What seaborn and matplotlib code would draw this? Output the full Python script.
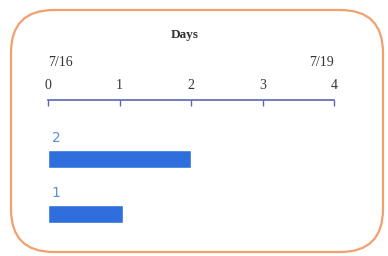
import matplotlib
matplotlib.use("Agg")
import matplotlib.pyplot as plt
import seaborn as sns
import pandas as pd
from matplotlib.patches import FancyBboxPatch

# data
categories = ["2", "1"]
days = [2.0, 1.05]
ticks = [0, 1, 2, 3, 4]
date_labels = ["7/16", "7/19"]
date_pos = [0, 4]

df = pd.DataFrame({"task": categories, "days": days})

sns.set_theme(style="white")
plt.rcParams["font.family"] = ["Liberation Serif", "DejaVu Serif"]

W, H = 388, 256
fig = plt.figure(figsize=(W / 100, H / 100), dpi=100)

# rounded orange frame
frame = FancyBboxPatch((11 / W, 4 / H), 372 / W, 242 / H,
                       boxstyle="round,pad=0,rounding_size=0.11",
                       transform=fig.transFigure, fill=False,
                       edgecolor="#f2a06e", linewidth=1.6,
                       mutation_aspect=W / H)
fig.patches.append(frame)

# axes: top edge = axis line (100 px from top), bottom 240 px from top
ax = fig.add_axes([48 / W, 16 / H, (334 - 48) / W, 140 / H])
sns.barplot(data=df, x="days", y="task", orient="h", color="#2f6fdd",
            saturation=1, width=0.33, ax=ax)

ax.set_xlim(0, 4)
ax.set_ylim(1 + 26 / 55, -59 / 55)
for s in ["left", "right", "bottom"]:
    ax.spines[s].set_visible(False)
ax.spines["top"].set_color("#5a66b4")
ax.spines["top"].set_linewidth(1.2)
ax.xaxis.tick_top()
ax.set_xticks(ticks)
ax.set_xticklabels([str(t) for t in ticks])
ax.tick_params(axis="x", direction="in", length=4, width=1, color="#5a66b4",
               labelsize=10, labelcolor="#333333", pad=6)
ax.set_yticks([])
ax.set_xlabel("")
ax.set_ylabel("")
ax.patch.set_alpha(0)

# bar labels above each bar
for i, c in enumerate(categories):
    ax.text(0.05, i - 0.38, c, color="#5b8fe0", fontsize=10,
            family="DejaVu Sans", ha="left", va="center")

# date labels above the tick labels
for d, p in zip(date_labels, date_pos):
    ax.annotate(d, xy=(p, 1), xycoords=("data", "axes fraction"),
                xytext=(0, 27), textcoords="offset points",
                ha="left" if p == 0 else "right", va="center",
                fontsize=10, color="#333333")

fig.text(185 / W, 1 - 35 / H, "Days", ha="center", va="center",
         fontsize=9.5, fontweight="bold", color="#333333")

fig.savefig("out.png", dpi=100)
